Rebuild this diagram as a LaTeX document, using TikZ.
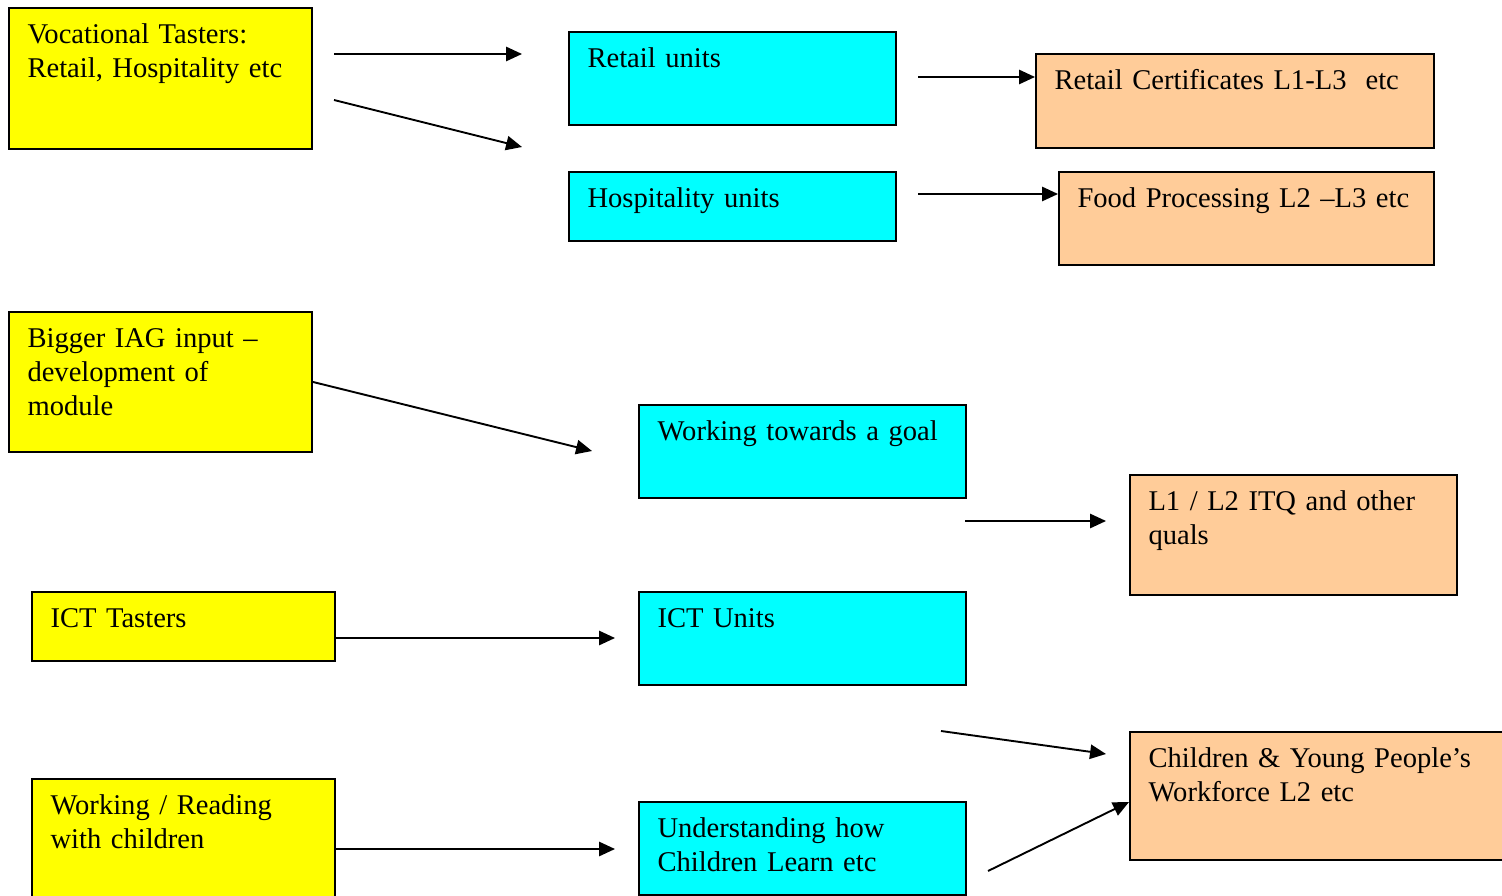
\documentclass[tikz,border=0pt]{standalone}
\usepackage{fontspec}
\setmainfont{Liberation Serif}
\usetikzlibrary{arrows.meta, positioning, calc}
\definecolor{taster}{RGB}{255, 255, 0}
\definecolor{unitcol}{RGB}{0, 255, 255}
\definecolor{peach}{RGB}{255, 204, 153}
\newcommand\boxfont{\fontsize{12}{14.3}\selectfont\frenchspacing\spaceskip 2.3pt plus 1pt minus 0.5pt\relax}
\tikzset{
    box/.style 2 args={rectangle, draw=black, line width=0.8pt, anchor=north west, align=left, font=\boxfont, inner xsep=7.8pt, inner ysep=0pt, text width=#1*0.42pt-15.6pt, text height=15.1pt, text depth=#2*0.42pt-15.1pt},
    arr/.style={-{Triangle[length=6.7pt, width=6pt]}, line width=0.8pt, black}
}

\begin{document}
\begin{tikzpicture}[x=0.42pt, y=-0.42pt]
        \useasboundingbox (0,0) rectangle (1502,896);
        \clip (0,0) rectangle (1502,896);

        \node[box={303}{141}, fill=taster] (voc) at (8,7) {Vocational Tasters:\\Retail, Hospitality etc};
        \node[box={303}{140}, fill=taster] (iag) at (8,311) {Bigger IAG input –\\development of\\module};
        \node[box={303}{69}, fill=taster] (ict) at (31,591) {ICT Tasters};
        \node[box={303}{130}, fill=taster] (read) at (31,778) {Working / Reading\\with children};

        \node[box={327}{93}, fill=unitcol] (retail) at (568,31) {Retail units};
        \node[box={327}{69}, fill=unitcol] (hosp) at (568,171) {Hospitality units};
        \node[box={327}{93}, fill=unitcol] (goal) at (638,404) {Working towards a goal};
        \node[box={327}{93}, fill=unitcol] (ictu) at (638,591) {ICT Units};
        \node[box={327}{93}, fill=unitcol] (learn) at (638,801) {Understanding how\\Children Learn etc};

        \node[box={398}{94}, fill=peach] (rcert) at (1035,53) {Retail Certificates L1-L3~ etc};
        \node[box={375}{93}, fill=peach] (food) at (1058,171) {Food Processing L2 –L3 etc};
        \node[box={327}{120}, fill=peach] (itq) at (1129,474) {L1 / L2 ITQ and other\\quals};
        \node[box={400}{128}, fill=peach] (cyp) at (1129,731) {Children \& Young People’s\\Workforce L2 etc};

        \coordinate (a1) at (334,54);
        \coordinate (a2) at (522,54);
        \coordinate (b1) at (334,100);
        \coordinate (b2) at (522,147);
        \coordinate (c1) at (918,77);
        \coordinate (d1) at (918,194);
        \coordinate (e2) at (592,451);
        \coordinate (f1) at (965,521);
        \coordinate (f2) at (1106,521);
        \coordinate (g2) at (615,638);
        \coordinate (h1) at (941,731);
        \coordinate (h2) at (1106,754);
        \coordinate (i2) at (615,849);
        \coordinate (j1) at (988,871);
        \coordinate (j2) at (1129,802);

        \draw[arr] (a1) -- (a2);
        \draw[arr] (b1) -- (b2);
        \draw[arr] (c1) -- (c1 -| rcert.west);
        \draw[arr] (d1) -- (d1 -| food.west);
        \draw[arr] (iag.east) -- (e2);
        \draw[arr] (f1) -- (f2);
        \draw[arr] (g2 -| ict.east) -- (g2);
        \draw[arr] (h1) -- (h2);
        \draw[arr] (i2 -| read.east) -- (i2);
        \draw[arr] (j1) -- (j2);
    \end{tikzpicture}
\end{document}
